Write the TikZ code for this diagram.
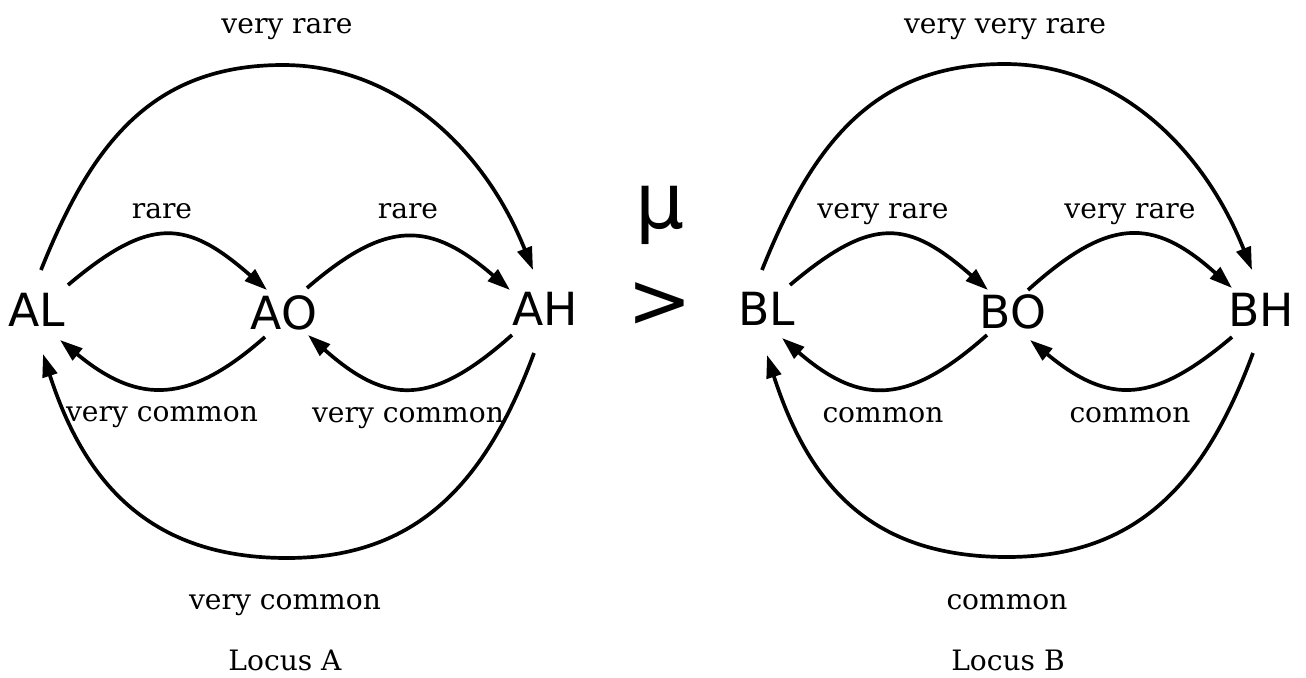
\documentclass[tikz,border=0pt]{standalone}
\usepackage{fontspec}
\setmainfont{DejaVu Serif}
\newfontfamily\nodefont{DejaVu Sans}
\usetikzlibrary{arrows.meta,calc}
\begin{document}
\begin{tikzpicture}[x=0.02cm,y=0.02cm,
  state/.style={font=\nodefont\fontsize{26}{30}\selectfont, inner sep=0pt},
  lab/.style={font=\fontsize{16}{19}\selectfont, anchor=base, inner sep=0pt},
  big/.style={font=\nodefont\fontsize{44}{50}\selectfont, inner sep=0pt},
  arr/.style={line width=2.1pt, -{Triangle[length=13pt,width=8.5pt]}}]
\useasboundingbox (0,0) rectangle (1306,-677);
% nodes
\node[state] (AL) at (37,-310) {AL};
\node[state] (AO) at (284,-313) {AO};
\node[state] (AH) at (545,-309) {AH};
\node[state] (BL) at (767,-309) {BL};
\node[state] (BO) at (1013,-312) {BO};
\node[state] (BH) at (1261,-310) {BH};
\node[big] (mu) at (660,-215) {μ};
\node[big] (gt) at (660,-305) {>};
% turning points of the outer arcs
\coordinate (Atop) at ($(AL)+(246,245)$);
\coordinate (Abot) at ($(AL)+(250,-248)$);
\coordinate (Btop) at ($(BL)+(238,245)$);
\coordinate (Bbot) at ($(BL)+(240,-248)$);
% locus A edges
\draw[arr] ($(AL)+(31,25)$) .. controls +(83,70) and +(-80,70) .. ($(AO)+(-17,23)$);
\draw[arr] ($(AO)+(-19,-24)$) .. controls +(-75,-66) and +(80,-66) .. ($(AL)+(23,-30)$);
\draw[arr] ($(AO)+(23,25)$) .. controls +(80,69) and +(-80,69) .. ($(AH)+(-35,19)$);
\draw[arr] ($(AH)+(-33,-26)$) .. controls +(-80,-71) and +(80,-71) .. ($(AO)+(24,-22)$);
\draw[arr] ($(AL)+(4,40)$) .. controls +(50,125) and +(-132,0) .. (Atop)
   .. controls +(110,0) and +(-50,125) .. ($(AH)+(-12,39)$);
\draw[arr] ($(AH)+(-11,-44)$) .. controls +(-48,-130) and +(130,0) .. (Abot)
   .. controls +(-136,0) and +(42,-130) .. ($(AL)+(6,-44)$);
% locus B edges
\draw[arr] ($(BL)+(23,24)$) .. controls +(83,70) and +(-80,70) .. ($(BO)+(-25,22)$);
\draw[arr] ($(BO)+(-26,-23)$) .. controls +(-78,-69) and +(80,-69) .. ($(BL)+(15,-29)$);
\draw[arr] ($(BO)+(15,22)$) .. controls +(80,72) and +(-80,72) .. ($(BH)+(-29,22)$);
\draw[arr] ($(BH)+(-29,-27)$) .. controls +(-78,-66) and +(80,-66) .. ($(BO)+(17,-28)$);
\draw[arr] ($(BL)+(-5,39)$) .. controls +(50,125) and +(-132,0) .. (Btop)
   .. controls +(110,0) and +(-50,125) .. ($(BH)+(-9,40)$);
\draw[arr] ($(BH)+(-8,-43)$) .. controls +(-48,-130) and +(130,0) .. (Bbot)
   .. controls +(-136,0) and +(42,-130) .. ($(BL)+(0,-46)$);
% labels A
\node[lab] (lA1) at (287,-33) {very rare};
\node[lab] (lA2) at (162,-218) {rare};
\node[lab] (lA3) at (408,-218) {rare};
\node[lab] (lA4) at (162,-421) {very common};
\node[lab] (lA5) at (408,-422) {very common};
\node[lab] (lA6) at (285,-609) {very common};
\node[lab] (lA7) at (285,-670) {Locus A};
% labels B
\node[lab] (lB1) at (1005,-33) {very very rare};
\node[lab] (lB2) at (883,-218) {very rare};
\node[lab] (lB3) at (1130,-218) {very rare};
\node[lab] (lB4) at (883,-422) {common};
\node[lab] (lB5) at (1130,-422) {common};
\node[lab] (lB6) at (1007,-609) {common};
\node[lab] (lB7) at (1008,-670) {Locus B};
\end{tikzpicture}
\end{document}
